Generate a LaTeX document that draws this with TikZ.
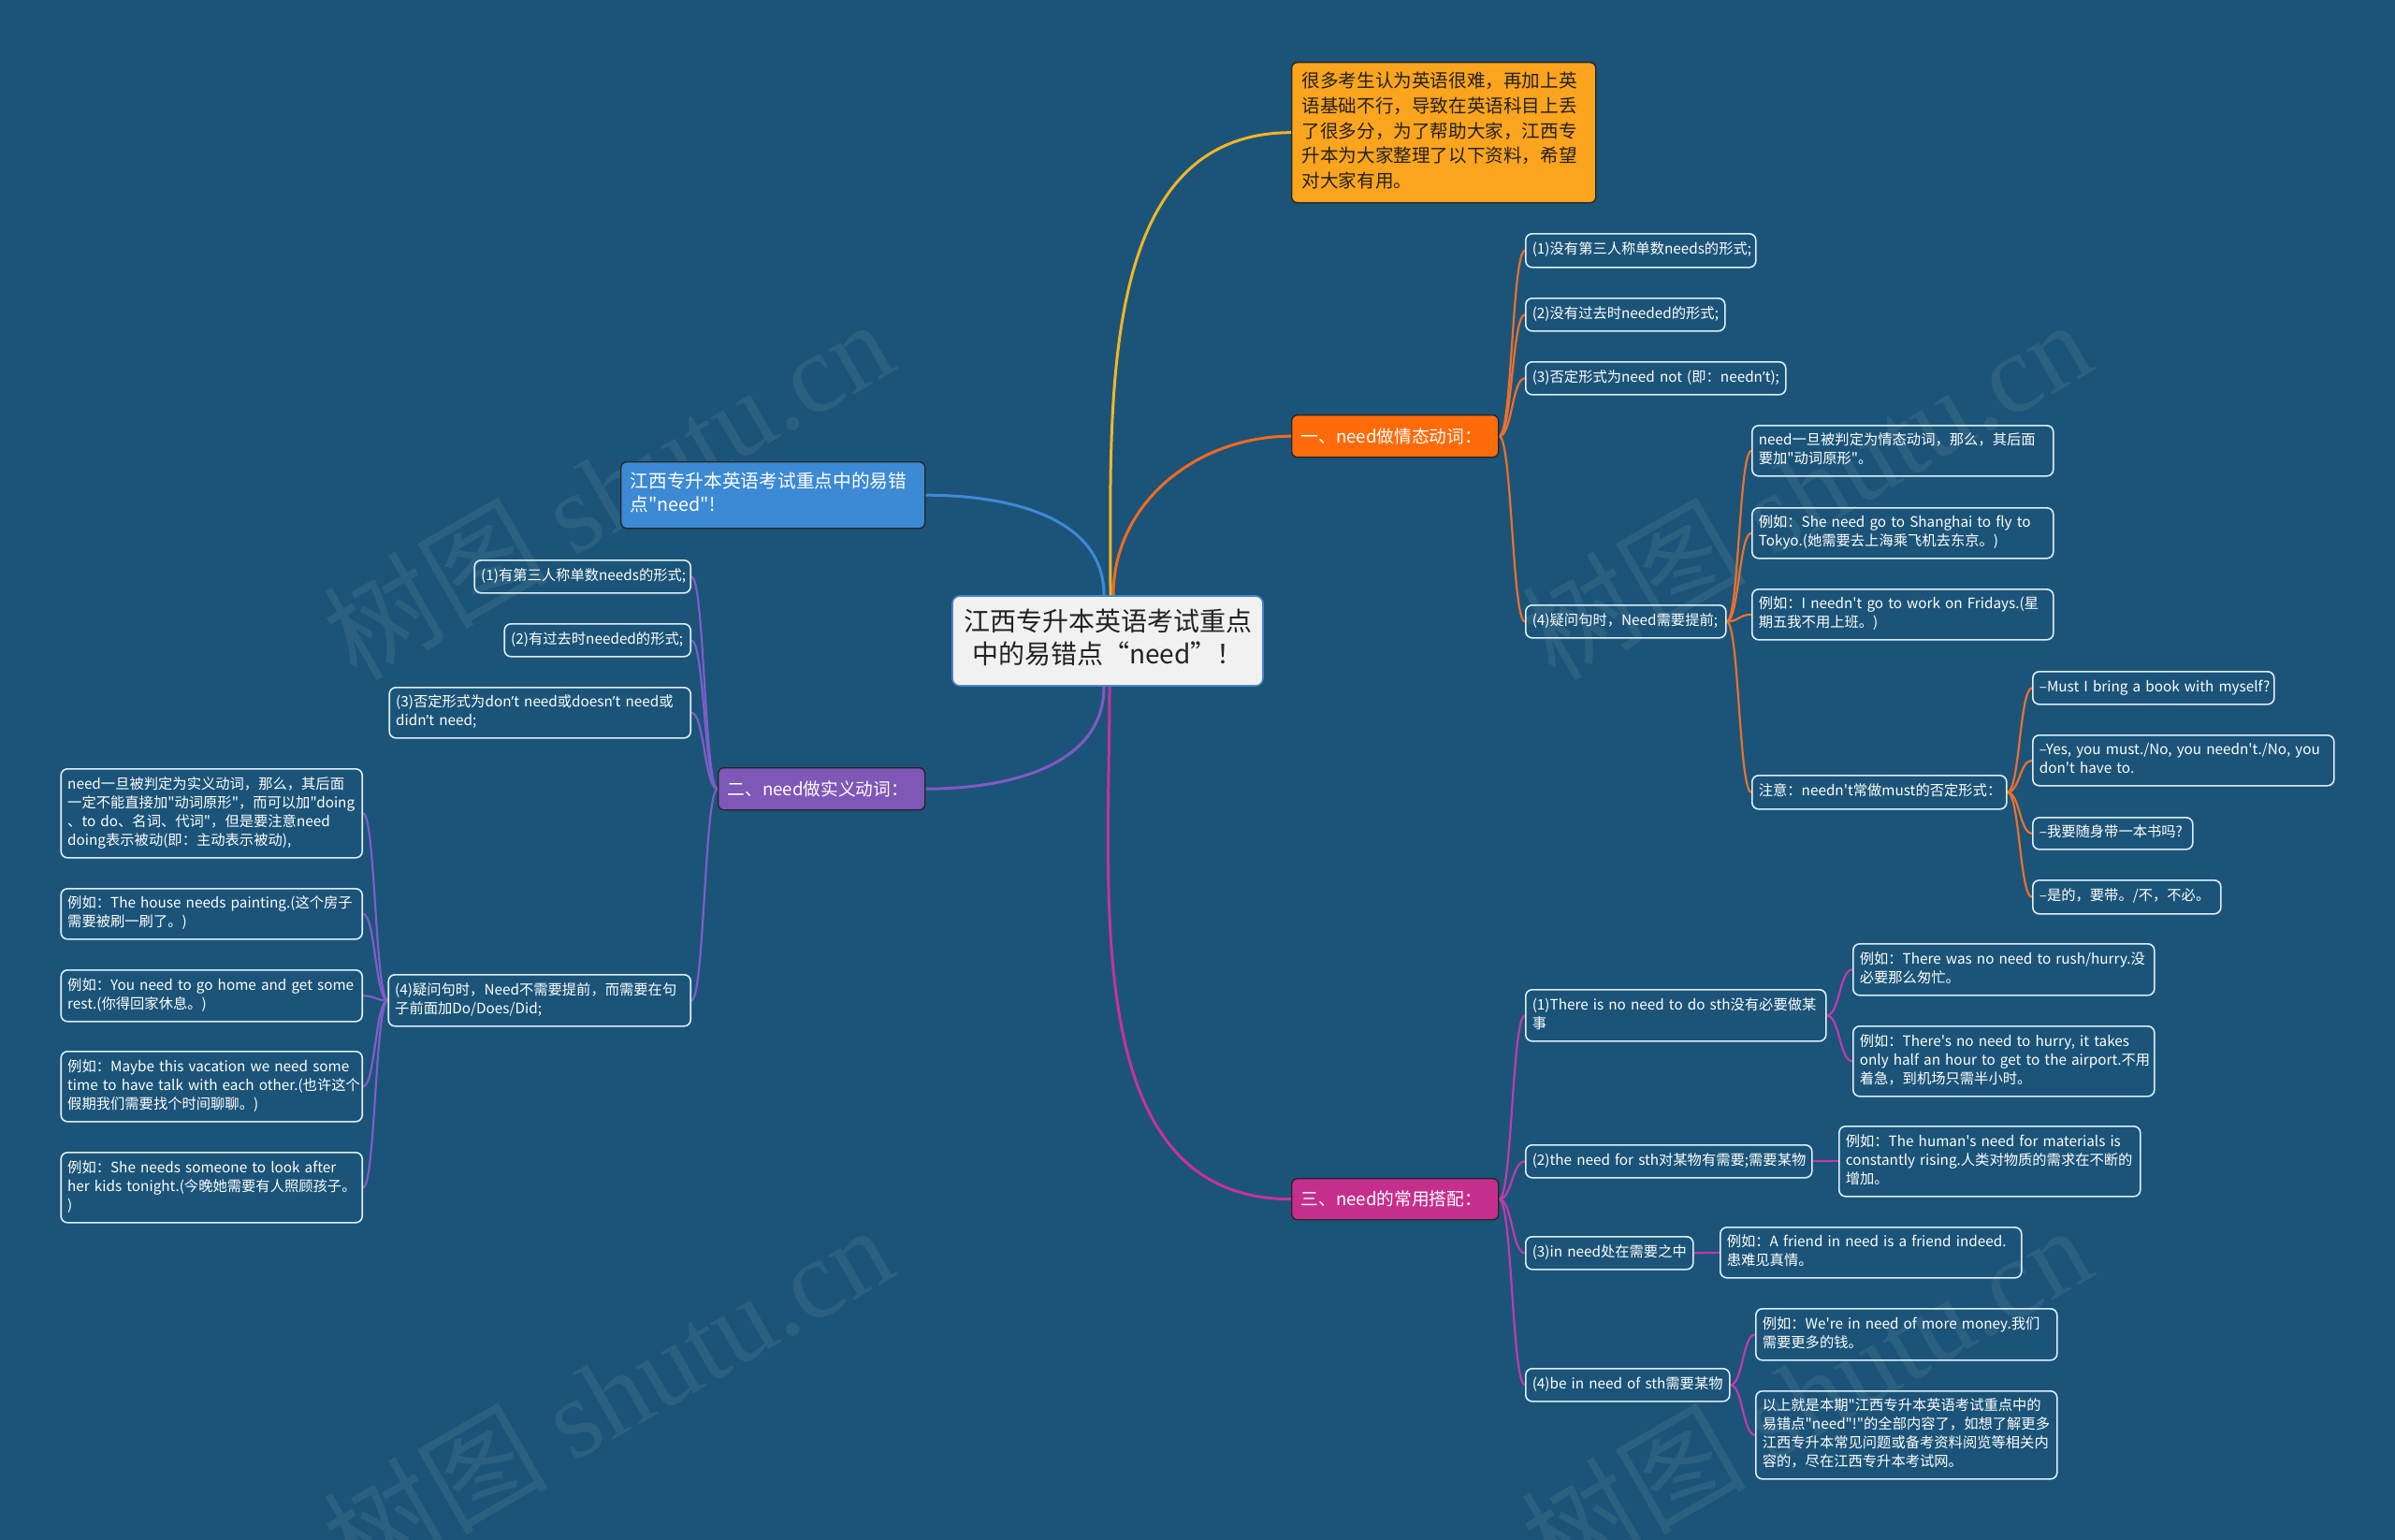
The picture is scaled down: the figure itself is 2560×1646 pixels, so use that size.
\documentclass[tikz,border=0pt]{standalone}
\usepackage{fontspec}
\setmainfont{Noto Sans CJK SC}[Ligatures=TeXOff]
\newfontfamily\wmserif{Liberation Serif}
\newfontfamily\latq{Noto Sans}
\newcommand\apo{{\latq ’}}
\usetikzlibrary{calc}
\setlength\parindent{0pt}
\definecolor{bg}{RGB}{27,84,120}
\definecolor{leafline}{RGB}{220,238,248}
\definecolor{notefill}{RGB}{251,164,30}
\definecolor{bluefill}{RGB}{60,137,212}
\definecolor{bonefill}{RGB}{255,106,10}
\definecolor{btwofill}{RGB}{126,87,183}
\definecolor{bthreefill}{RGB}{198,46,142}
\definecolor{rootfill}{RGB}{241,241,241}
\definecolor{rootline}{RGB}{74,134,197}
\definecolor{lnyel}{RGB}{242,181,38}
\definecolor{lnor}{RGB}{242,106,30}
\definecolor{lnorsub}{RGB}{236,112,44}
\definecolor{lnbl}{RGB}{61,138,214}
\definecolor{lnpu}{RGB}{131,89,196}
\definecolor{lnpusub}{RGB}{127,93,200}
\definecolor{lnma}{RGB}{199,50,154}
\definecolor{lnmasub}{RGB}{192,58,174}
\definecolor{darktext}{RGB}{34,34,34}
\pgfdeclarelayer{back}
\pgfsetlayers{back,main}
\newcommand\tb[1]{\begin{tabular}{@{}l@{}}#1\end{tabular}}
\newcommand\tbc[1]{\begin{tabular}{@{}c@{}}#1\end{tabular}}
\newcommand\cnR[3]{\draw[#3] let \p1=(#1.east), \p2=(#2.west) in (\p1) .. controls ({(\x1+\x2)/2},\y1) and ({(\x1+\x2)/2},\y2) .. (\p2);}
\newcommand\cnL[3]{\draw[#3] let \p1=(#1.west), \p2=(#2.east) in (\p1) .. controls ({(\x1+\x2)/2},\y1) and ({(\x1+\x2)/2},\y2) .. (\p2);}
\begin{document}
\begin{tikzpicture}[x=1pt,y=-1pt,
  leaf/.style={draw=leafline, line width=1.6pt, rounded corners=7pt, text=white,
    font=\fontsize{15.3}{20}\selectfont, inner xsep=7pt, inner ysep=0pt,
    align=left, anchor=north west},
  leafr/.style={leaf, anchor=north east},
  branchbox/.style={draw=black!85, line width=1.4pt, rounded corners=6pt, text=white,
    font=\fontsize{18.7}{23}\selectfont, inner xsep=10pt, inner ysep=0pt,
    align=left, anchor=north west, text width=201pt, minimum height=45pt},
  rootbox/.style={fill=rootfill, draw=rootline, line width=1.6pt, rounded corners=8pt,
    text=darktext, font=\fontsize{28}{35}\selectfont, inner sep=0pt,
    minimum width=332pt, minimum height=96pt, align=center},
  notebox/.style={fill=notefill, draw=black!85, line width=1.4pt, rounded corners=6pt,
    text=darktext, font=\fontsize{19.6}{26.7}\selectfont, inner xsep=11pt, inner ysep=0pt,
    align=left, anchor=north west, text width=303pt, minimum height=150pt},
  bluebox/.style={fill=bluefill, draw=black!85, line width=1.4pt, rounded corners=6pt,
    text=white, font=\fontsize{19.7}{25}\selectfont, inner xsep=10pt, inner ysep=0pt,
    align=left, anchor=north west, text width=305pt, minimum height=71pt},
  mainln/.style={line width=3pt},
  subor/.style={draw=lnorsub, line width=2.2pt},
  subpu/.style={draw=lnpusub, line width=2.2pt},
  subma/.style={draw=lnmasub, line width=2.2pt},
  wm/.style={text=white, opacity=0.07, font=\fontsize{120}{120}\selectfont, rotate=30, inner sep=0pt}
]
\useasboundingbox (0,0) rectangle (2560,1646);

% root and top-level
\node[rootbox] (root) at (1184,685) {\tbc{江西专升本英语考试重点\\中的易错点“need”！}};
\node[notebox] (note) at (1380,66) {\tb{很多考生认为英语很难，再加上英\\语基础不行，导致在英语科目上丢\\了很多分，为了帮助大家，江西专\\升本为大家整理了以下资料，希望\\对大家有用。}};
\node[bluebox] (blue) at (663,493) {\tb{江西专升本英语考试重点中的易错\\点"need"!}};
\node[branchbox, fill=bonefill] (b1) at (1380,443) {一、need做情态动词：};
\node[branchbox, fill=btwofill] (b2) at (767,820) {二、need做实义动词：};
\node[branchbox, fill=bthreefill, minimum height=44pt] (b3) at (1380,1259) {三、need的常用搭配：};

% branch 1
\node[leaf, text width=232pt, minimum height=36pt] (l11) at (1630,249) {\tb{(1)没有第三人称单数needs的形式;}};
\node[leaf, text width=199pt, minimum height=35pt] (l12) at (1630,318) {\tb{(2)没有过去时needed的形式;}};
\node[leaf, text width=264pt, minimum height=35pt] (l13) at (1630,386) {\tb{(3)否定形式为need not (即：needn\apo t);}};
\node[leaf, text width=200pt, minimum height=35pt] (l14) at (1630,646) {\tb{(4)疑问句时，Need需要提前;}};
\node[leaf, text width=308pt, minimum height=54pt] (l141) at (1872,454) {\tb{need一旦被判定为情态动词，那么，其后面\\要加"动词原形"。}};
\node[leaf, text width=308pt, minimum height=54pt] (l142) at (1872,542) {\tb{例如：She need go to Shanghai to fly to\\Tokyo.(她需要去上海乘飞机去东京。)}};
\node[leaf, text width=308pt, minimum height=54pt] (l143) at (1872,629) {\tb{例如：I needn't go to work on Fridays.(星\\期五我不用上班。)}};
\node[leaf, text width=258pt, minimum height=36pt] (l144) at (1872,828) {\tb{注意：needn't常做must的否定形式：}};
\node[leaf, text width=244pt, minimum height=35pt] (l1441) at (2172,717) {\tb{–Must I bring a book with myself?}};
\node[leaf, text width=308pt, minimum height=54pt] (l1442) at (2172,785) {\tb{–Yes, you must./No, you needn't./No, you\\don't have to.}};
\node[leaf, text width=157pt, minimum height=34pt] (l1443) at (2172,873) {\tb{–我要随身带一本书吗?}};
\node[leaf, text width=187pt, minimum height=36pt] (l1444) at (2172,940) {\tb{–是的，要带。/不，不必。}};

% branch 2
\node[leafr, text width=217pt, minimum height=35pt] (l21) at (739,598) {\tb{(1)有第三人称单数needs的形式;}};
\node[leafr, text width=185pt, minimum height=35pt] (l22) at (739,666) {\tb{(2)有过去时needed的形式;}};
\node[leafr, text width=308pt, minimum height=54pt] (l23) at (739,734) {\tb{(3)否定形式为don\apo t need或doesn\apo t need或\\didn\apo t need;}};
\node[leafr, text width=309pt, minimum height=55pt] (l24) at (739,1041) {\tb{(4)疑问句时，Need不需要提前，而需要在句\\子前面加Do/Does/Did;}};
\node[leafr, text width=308pt, minimum height=95pt] (l241) at (388,821) {\tb{need一旦被判定为实义动词，那么，其后面\\一定不能直接加"动词原形"，而可以加"doing\\、to do、名词、代词"，但是要注意need\\doing表示被动(即：主动表示被动),}};
\node[leafr, text width=308pt, minimum height=54pt] (l242) at (388,949) {\tb{例如：The house needs painting.(这个房子\\需要被刷一刷了。)}};
\node[leafr, text width=308pt, minimum height=55pt] (l243) at (388,1036) {\tb{例如：You need to go home and get some\\ rest.(你得回家休息。)}};
\node[leafr, text width=308pt, minimum height=75pt] (l244) at (388,1123) {\tb{例如：Maybe this vacation we need some\\time to have talk with each other.(也许这个\\假期我们需要找个时间聊聊。)}};
\node[leafr, text width=308pt, minimum height=75pt] (l245) at (388,1231) {\tb{例如：She needs someone to look after\\her kids tonight.(今晚她需要有人照顾孩子。\\)}};

% branch 3
\node[leaf, text width=307pt, minimum height=55pt] (l31) at (1630,1057) {\tb{(1)There is no need to do sth没有必要做某\\事}};
\node[leaf, text width=308pt, minimum height=55pt] (l311) at (1980,1008) {\tb{例如：There was no need to rush/hurry.没\\必要那么匆忙。}};
\node[leaf, text width=308pt, minimum height=75pt] (l312) at (1980,1096) {\tb{例如：There's no need to hurry, it takes\\only half an hour to get to the airport.不用\\着急，到机场只需半小时。}};
\node[leaf, text width=292pt, minimum height=35pt] (l32) at (1630,1223) {\tb{(2)the need for sth对某物有需要;需要某物}};
\node[leaf, text width=308pt, minimum height=75pt] (l321) at (1965,1203) {\tb{例如：The human's need for materials is\\constantly rising.人类对物质的需求在不断的\\增加。}};
\node[leaf, text width=165pt, minimum height=35pt] (l33) at (1630,1321) {\tb{(3)in need处在需要之中}};
\node[leaf, text width=308pt, minimum height=54pt] (l331) at (1838,1311) {\tb{例如：A friend in need is a friend indeed.\\患难见真情。}};
\node[leaf, text width=204pt, minimum height=35pt] (l34) at (1630,1462) {\tb{(4)be in need of sth需要某物}};
\node[leaf, text width=308pt, minimum height=55pt] (l341) at (1876,1398) {\tb{例如：We're in need of more money.我们\\需要更多的钱。}};
\node[leaf, text width=308pt, minimum height=94pt] (l342) at (1876,1486) {\tb{以上就是本期"江西专升本英语考试重点中的\\易错点"need"!"的全部内容了，如想了解更多\\江西专升本常见问题或备考资料阅览等相关内\\容的，尽在江西专升本考试网。}};

\begin{pgfonlayer}{back}
\fill[bg] (0,0) rectangle (2560,1646);
\begin{scope}
\clip (0,0) rectangle (2560,1646);
\node[wm] (wma) at (649,522) {树图 {\wmserif shutu.cn}};
\node[wm] (wmb) at (1930,522) {树图 {\wmserif shutu.cn}};
\node[wm] (wmc) at (649,1490) {树图 {\wmserif shutu.cn}};
\node[wm] (wmd) at (1930,1490) {树图 {\wmserif shutu.cn}};
\end{scope}
% main connectors
\draw[mainln, draw=lnyel] ([xshift=3pt]root.north) to[out=90,in=180] (note.west);
\draw[mainln, draw=lnor] ([xshift=6pt]root.north) to[out=90,in=180] (b1.west);
\draw[mainln, draw=lnbl] ([xshift=-4pt]root.north) to[out=90,in=0] (blue.east);
\draw[mainln, draw=lnpu] ([xshift=-4pt]root.south) to[out=-90,in=0] (b2.east);
\draw[mainln, draw=lnma] ([xshift=2pt]root.south) to[out=-90,in=180] (b3.west);
% branch 1
\cnR{b1}{l11}{subor}
\cnR{b1}{l12}{subor}
\cnR{b1}{l13}{subor}
\cnR{b1}{l14}{subor}
\cnR{l14}{l141}{subor}
\cnR{l14}{l142}{subor}
\cnR{l14}{l143}{subor}
\cnR{l14}{l144}{subor}
\cnR{l144}{l1441}{subor}
\cnR{l144}{l1442}{subor}
\cnR{l144}{l1443}{subor}
\cnR{l144}{l1444}{subor}
% branch 2
\cnL{b2}{l21}{subpu}
\cnL{b2}{l22}{subpu}
\cnL{b2}{l23}{subpu}
\cnL{b2}{l24}{subpu}
\cnL{l24}{l241}{subpu}
\cnL{l24}{l242}{subpu}
\cnL{l24}{l243}{subpu}
\cnL{l24}{l244}{subpu}
\cnL{l24}{l245}{subpu}
% branch 3
\cnR{b3}{l31}{subma}
\cnR{b3}{l32}{subma}
\cnR{b3}{l33}{subma}
\cnR{b3}{l34}{subma}
\cnR{l31}{l311}{subma}
\cnR{l31}{l312}{subma}
\cnR{l32}{l321}{subma}
\cnR{l33}{l331}{subma}
\cnR{l34}{l341}{subma}
\cnR{l34}{l342}{subma}
\end{pgfonlayer}
\end{tikzpicture}
\end{document}
